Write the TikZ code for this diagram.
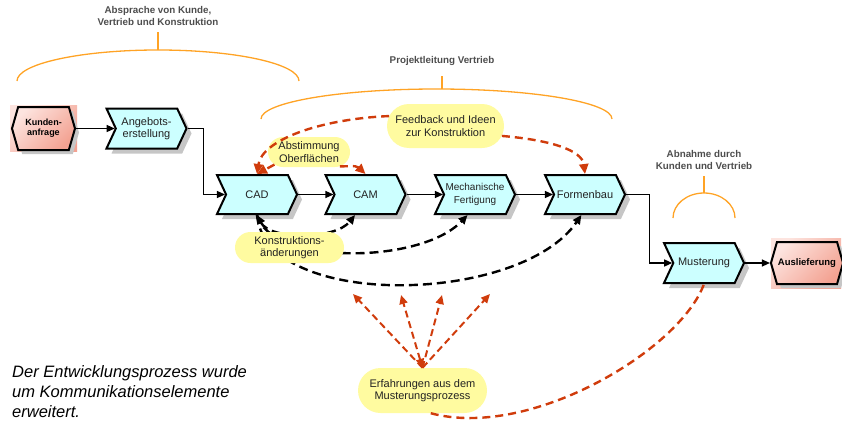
\documentclass[tikz,border=0pt]{standalone}
\usepackage{fontspec}
\setmainfont{Liberation Sans}
\usetikzlibrary{shapes.symbols,shapes.misc,shadows,arrows.meta,calc}
\definecolor{cyanfill}{HTML}{CCFFFF}
\definecolor{pinkL}{HTML}{FDE4DF}
\definecolor{pinkD}{HTML}{F3A292}
\definecolor{yellowfill}{HTML}{FFFBA0}
\definecolor{redarrow}{HTML}{D03C0C}
\definecolor{braceorange}{HTML}{FFA325}
\definecolor{labelgray}{HTML}{4D4D4D}
\definecolor{boxtext}{HTML}{222222}
\definecolor{shadowgray}{HTML}{C6C6C6}
\begin{document}
\begin{tikzpicture}[x=1pt,y=-1pt,
  pinkbg/.style={top color=pinkL, bottom color=pinkD, shading angle=45},
  func/.style={signal, signal from=west, signal to=east, signal pointer angle=130,
    draw=black, line width=2pt, fill=cyanfill, minimum width=80pt, minimum height=39pt,
    inner sep=1pt, align=center, text=boxtext, font=\fontsize{11}{12.5}\selectfont,
    drop shadow={shadow xshift=5pt, shadow yshift=-5pt, fill=shadowgray, opacity=1}},
  evt/.style={signal, signal to=east and west, signal pointer angle=148,
    draw=black, line width=2pt, pinkbg,
    minimum width=63pt, minimum height=43pt, inner sep=1pt, align=center, text=black,
    font=\bfseries\fontsize{9}{10}\selectfont,
    drop shadow={shadow xshift=4pt, shadow yshift=-4pt, fill=shadowgray, opacity=1}},
  callout/.style={rounded rectangle, fill=yellowfill, draw=none, align=center, text=boxtext,
    font=\fontsize{11}{12.3}\selectfont, inner sep=0pt},
  bracelabel/.style={align=center, text=labelgray, font=\bfseries\fontsize{9.8}{12}\selectfont, inner sep=0pt},
  flow/.style={draw=black, line width=1.2pt, -{Triangle[length=8pt,width=7pt]}},
  rdash/.style={draw=redarrow, line width=2.4pt, dash pattern=on 8pt off 5pt, -{Triangle[length=10pt,width=9pt]}},
  rdashone/.style={draw=redarrow, line width=2pt, dash pattern=on 7pt off 4pt, -{Triangle[length=9pt,width=8pt]}},
  rdashboth/.style={rdashone, {Triangle[length=9pt,width=8pt]}-{Triangle[length=9pt,width=8pt]}},
  rdashplain/.style={draw=redarrow, line width=2.4pt, dash pattern=on 8pt off 5pt},
  bdash/.style={draw=black, line width=2.4pt, dash pattern=on 9pt off 5pt, -{Triangle[length=9pt,width=8pt]}},
  bdashboth/.style={bdash, {Triangle[length=9pt,width=8pt]}-{Triangle[length=9pt,width=8pt]}},
  brace/.style={draw=braceorange, line width=1.3pt}
]
\useasboundingbox (0,0) rectangle (842,423);

% process elements
\shade[pinkbg] (10,105) rectangle (77,151);
\node[evt] (kunden) at (43.5,128.5) {Kunden-\\anfrage};
\node[func, minimum height=40pt] (angebot) at (146.5,128.5) {Angebots-\\erstellung};
\node[func] (cad) at (257,194.5) {CAD};
\node[func] (cam) at (365.5,194.5) {CAM};
\node[func, font=\fontsize{10}{12.5}\selectfont] (mech) at (475,194.5) {Mechanische\\Fertigung};
\node[func] (formen) at (585,194.5) {Formenbau};
\node[func, minimum height=40pt] (muster) at (704,263) {Musterung};
\shade[pinkbg] (771,238) rectangle (841,288);
\node[evt, minimum width=64pt, minimum height=42pt, font=\bfseries\fontsize{9.5}{11}\selectfont] (ausl) at (807,263) {Auslieferung};

% control flow
\draw[flow] (kunden.east) -- (angebot.west);
\draw[flow] (angebot.east) -- ++(16,0) |- (cad.west);
\draw[flow] (cad.east) -- (cam.west);
\draw[flow] (cam.east) -- (mech.west);
\draw[flow] (mech.east) -- (formen.west);
\draw[flow] (formen.east) -- ++(23,0) |- (muster.west);
\draw[flow] (muster.east) -- (ausl.west);

% braces
\node[bracelabel] (lab1) at (158,16.3) {Absprache von Kunde,\\Vertrieb und Konstruktion};
\draw[brace] (17,81) .. controls (17,63.9) and (80.2,50) .. (158,50) .. controls (235.8,50) and (299,63.9) .. (299,81);
\draw[brace] (158,32) -- (158,50);
\node[bracelabel] (lab2) at (442,61) {Projektleitung Vertrieb};
\draw[brace] (261,119) .. controls (261,102.4) and (339.6,89) .. (436.5,89) .. controls (533.4,89) and (612,102.4) .. (612,119);
\draw[brace] (442,76) -- (442,89);
\node[bracelabel] (lab3) at (704,159.7) {Abnahme durch\\Kunden und Vertrieb};
\draw[brace] (673,218) .. controls (673,204.2) and (686.9,193) .. (704,193) .. controls (721.1,193) and (735,204.2) .. (735,218);
\draw[brace] (704,176) -- (704,193);

% callouts (positions)
\coordinate (fbc) at (445.5,126);
\coordinate (abc) at (309,152);
\coordinate (koc) at (289.5,247.5);
\coordinate (erc) at (422.5,390.5);

% black dashed: Konstruktionsaenderungen
\draw[bdashboth] (cad.south) .. controls (270,240) and (335,240) .. (cam.243);
\draw[bdash] (cad.south) .. controls (270,265) and (420,265) .. (mech.250);
\draw[bdash] (cad.south) .. controls (265,310) and (520,305) .. (formen.260);

% callout nodes
\node[callout, minimum width=117pt, minimum height=44pt] (fb) at (fbc) {Feedback und Ideen\\zur Konstruktion};
\node[callout, minimum width=82pt, minimum height=30pt] (abst) at (abc) {Abstimmung\\Oberflächen};
\node[callout, minimum width=109pt, minimum height=31pt] (konst) at (koc) {Konstruktions-\\änderungen};
\node[callout, minimum width=129pt, minimum height=45pt] (erf) at (erc) {Erfahrungen aus dem\\Musterungsprozess};

% red dashed feedback arrows
\draw[rdash] (fb.170) .. controls (320,119) and (262,140) .. (cad.north);
\draw[rdash] (fb.-10) .. controls (550,140) and (582,150) .. (formen.north);
\draw[rdash] (abst.200) -- (cad.north);
\draw[rdash] (abst.-25) .. controls (357,166) .. (cam.north);

% experience arrows
\coordinate (t1) at (353,294);
\coordinate (t2) at (401,295);
\coordinate (t3) at (442,295);
\coordinate (t4) at (490,294);
\draw[rdashone] (erf.north) -- (t1);
\draw[rdashboth] (erf.north) -- (t2);
\draw[rdashone] (erf.north) -- (t3);
\draw[rdashone] (erf.north) -- (t4);
\draw[rdashplain] (erf.-70) .. controls (530,440) and (680,350) .. (muster.south);

% note
\node[anchor=north west, inner sep=0pt, align=left, text=black,
  font=\itshape\fontsize{16.5}{20}\selectfont] (note) at (12,365) {Der Entwicklungsprozess wurde\\um Kommunikationselemente\\erweitert.};
\end{tikzpicture}
\end{document}
